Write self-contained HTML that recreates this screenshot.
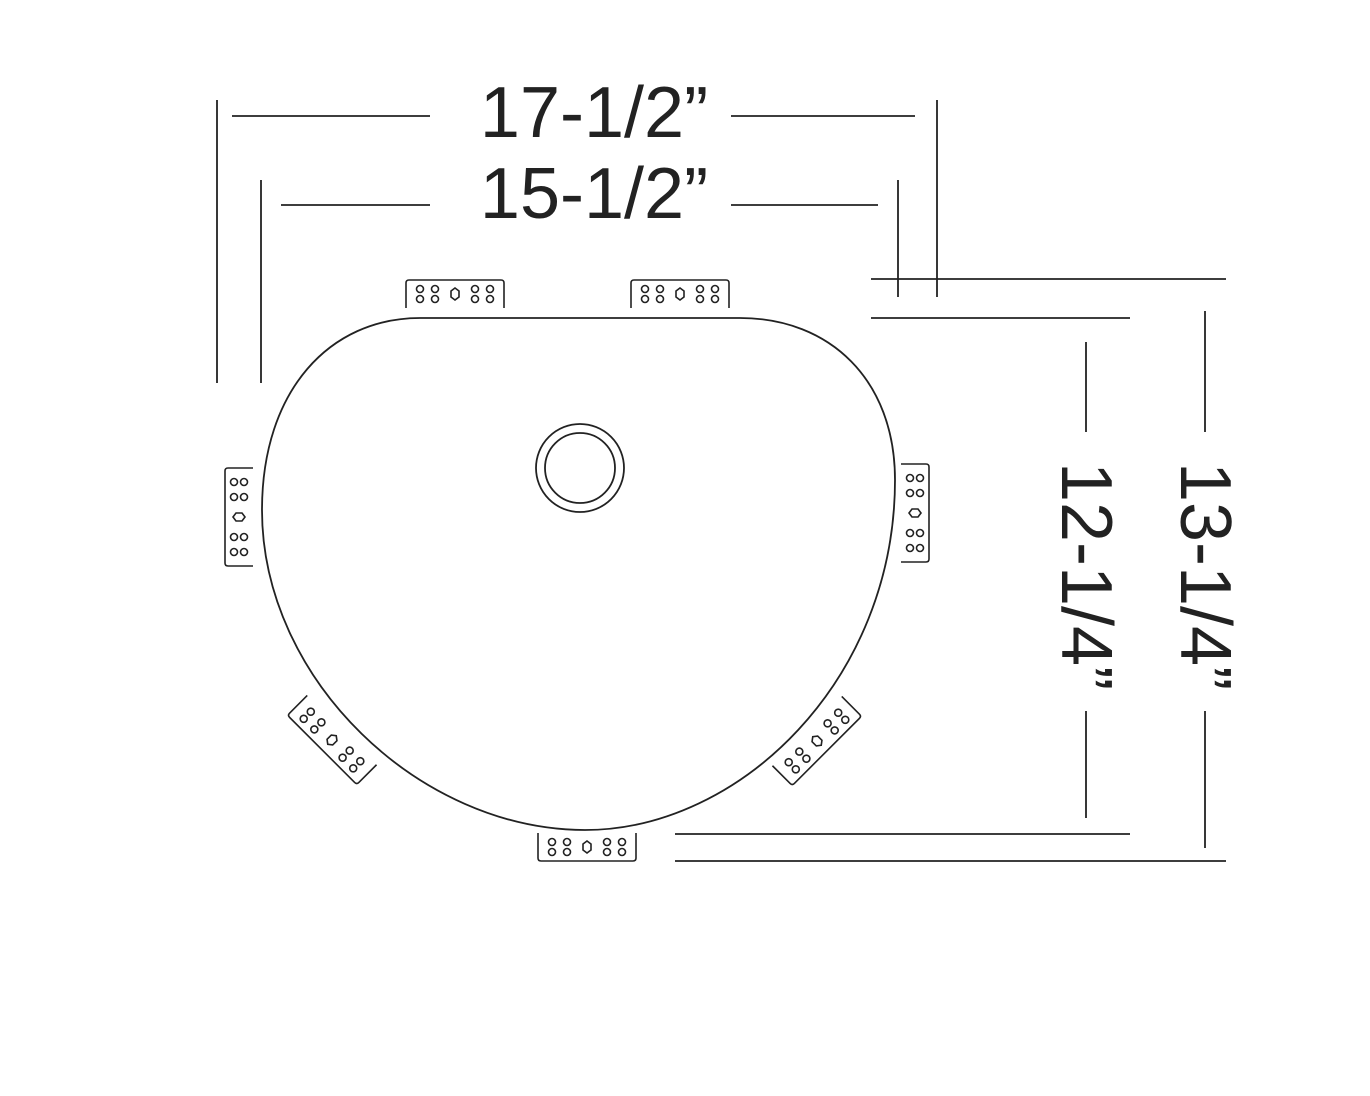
<!DOCTYPE html>
<html><head><style>html,body{margin:0;padding:0;background:#fff}svg{display:block}</style></head>
<body>
<svg width="1370" height="1096" viewBox="0 0 1370 1096" xmlns="http://www.w3.org/2000/svg">
<defs>
<g id="clip" fill="none" stroke="#222" stroke-width="1.6">
<path d="M-49,14 L-49,-11 Q-49,-14 -46,-14 L46,-14 Q49,-14 49,-11 L49,14"/>
<circle cx="-35" cy="-5" r="3.5"/><circle cx="-20" cy="-5" r="3.5"/>
<circle cx="20" cy="-5" r="3.5"/><circle cx="35" cy="-5" r="3.5"/>
<circle cx="-35" cy="5" r="3.5"/><circle cx="-20" cy="5" r="3.5"/>
<circle cx="20" cy="5" r="3.5"/><circle cx="35" cy="5" r="3.5"/>
<path d="M0,-6 L4,-3 L4,3 L0,6 L-4,3 L-4,-3 Z"/>
</g>
</defs>
<g stroke="#222" stroke-width="1.8" fill="none">
<line x1="217" y1="100" x2="217" y2="383"/>
<line x1="261" y1="180" x2="261" y2="383"/>
<line x1="232" y1="116" x2="430" y2="116"/>
<line x1="731" y1="116" x2="915" y2="116"/>
<line x1="937" y1="100" x2="937" y2="297"/>
<line x1="281" y1="205" x2="430" y2="205"/>
<line x1="731" y1="205" x2="878" y2="205"/>
<line x1="898" y1="180" x2="898" y2="297"/>
<line x1="871" y1="279" x2="1226" y2="279"/>
<line x1="871" y1="318" x2="1130" y2="318"/>
<line x1="675" y1="834" x2="1130" y2="834"/>
<line x1="675" y1="861" x2="1226" y2="861"/>
<line x1="1086" y1="342" x2="1086" y2="432"/>
<line x1="1086" y1="711" x2="1086" y2="818"/>
<line x1="1205" y1="311" x2="1205" y2="432"/>
<line x1="1205" y1="711" x2="1205" y2="848"/>
<path d="M420,318 L740,318 C830,318 895,380 895,480 C895,680 740,830 585,830 C420,830 262,680 262,510 C262,390 330,318 420,318 Z"/>
<circle cx="580" cy="468" r="44"/>
<circle cx="580" cy="468" r="35"/>
</g>
<use href="#clip" transform="translate(455,294)"/>
<use href="#clip" transform="translate(680,294)"/>
<use href="#clip" transform="translate(239,517) rotate(-90)"/>
<use href="#clip" transform="translate(915,513) rotate(90)"/>
<use href="#clip" transform="translate(587,847) rotate(180)"/>
<use href="#clip" transform="translate(332,740) rotate(-135)"/>
<use href="#clip" transform="translate(817,741) rotate(135)"/>
<g font-family="Liberation Sans, sans-serif" font-size="72" fill="#222" text-anchor="middle">
<text x="594" y="137">17-1/2”</text>
<text x="594" y="218">15-1/2”</text>
<text transform="translate(1062,576) rotate(90)">12-1/4”</text>
<text transform="translate(1181,576) rotate(90)">13-1/4”</text>
</g>
</svg>
</body></html>
